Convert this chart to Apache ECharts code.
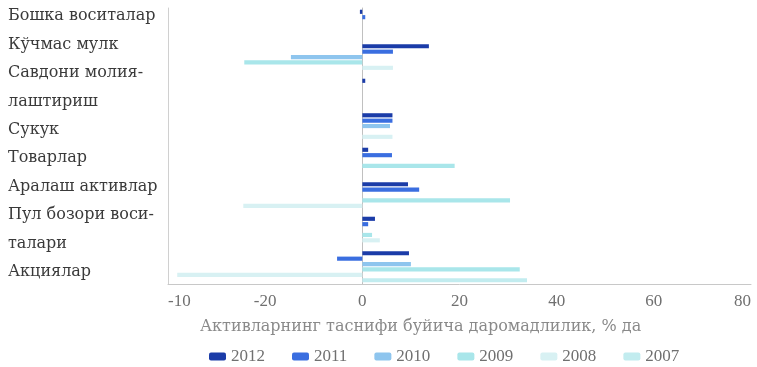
<!DOCTYPE html>
<html>
<head>
<meta charset="utf-8">
<script src="https://cdn.jsdelivr.net/npm/echarts@6/dist/echarts.min.js"></script>
<style>
  html, body { margin: 0; padding: 0; background: #fff; }
  #chart { width: 757px; height: 367px; }
</style>
</head>
<body>
<div id="chart"></div>
<script>
// categories, top to bottom (label lines as printed)
const categories = [
  'Бошка воситалар',
  'Кўчмас мулк',
  'Савдони молия-\nлаштириш',
  'Сукук',
  'Товарлар',
  'Аралаш активлар',
  'Пул бозори воси-\nталари',
  'Акциялар'
];
const years = ['2012', '2011', '2010', '2009', '2008', '2007'];

// returns, % (one value per category, same order)
const y2012 = [-0.5, 13.7, 0.6, 6.2, 1.2, 9.4, 2.6, 9.6];
const y2011 = [0.6, 6.3, null, 6.2, 6.1, 11.7, 1.2, -5.2];
const y2010 = [null, -14.7, null, 5.7, null, null, null, 10];
const y2009 = [null, -24.3, null, null, 19, 30.4, 2.0, 32.4];
const y2008 = [null, 6.3, null, 6.2, null, -24.5, 3.6, -38.1];
const y2007 = [null, null, null, null, null, null, null, 33.9];

const xTicks = [-40, -20, 0, 20, 40, 60, 80];
const xTickLabels = ['-10', '-20', '0', '20', '40', '60', '80'];

const axisTitle = 'Активларнинг таснифи буйича даромадлилик, % да';
const colors = ['#1b3ca8', '#3a6ee0', '#8ec5ee', '#a9e6ea', '#d8f1f3', '#c2ecef'];
const serif = '"DejaVu Serif", "Liberation Serif", serif';
const narrowSerif = '"Liberation Serif", serif';

const seriesData = [y2012, y2011, y2010, y2009, y2008, y2007];

const chart = echarts.init(document.getElementById('chart'));
chart.setOption({
  animation: false,
  color: colors,
  grid: { left: 168, right: 6, top: 8, bottom: 83, containLabel: false },
  xAxis: {
    type: 'value',
    min: xTicks[0],
    max: xTicks[xTicks.length - 1],
    interval: 20,
    axisLine: { show: true, lineStyle: { color: '#c8c8c8', width: 1 } },
    axisTick: { show: false },
    splitLine: { show: false },
    axisLabel: {
      margin: 9,
      color: '#707070',
      fontFamily: narrowSerif,
      fontSize: 17,
      alignMinLabel: 'left',
      alignMaxLabel: 'right',
      formatter: (v) => xTickLabels[xTicks.indexOf(v)]
    }
  },
  yAxis: [
    {
      type: 'category',
      inverse: true,
      data: categories,
      axisLine: { show: true, onZero: true, lineStyle: { color: '#c0c0c0', width: 1 } },
      axisTick: { show: false },
      axisLabel: { show: false }
    },
    {
      type: 'category',
      inverse: true,
      position: 'left',
      data: categories,
      axisLine: { show: true, onZero: false, lineStyle: { color: '#d0d0d0', width: 1 } },
      axisTick: { show: false },
      axisLabel: { show: false }
    }
  ],
  legend: {
    left: 204,
    top: 343,
    itemWidth: 17,
    itemHeight: 8,
    itemGap: 27,
    icon: 'roundRect',
    textStyle: { color: '#707070', fontFamily: narrowSerif, fontSize: 17 },
    data: years
  },
  graphic: [
    {
      type: 'text',
      left: 8,
      top: 2,
      style: {
        text: categories.join('\n'),
        font: '16px ' + serif,
        lineHeight: 28.4,
        fill: '#3a3a3a'
      }
    },
    {
      type: 'text',
      left: 200,
      top: 319,
      style: {
        text: axisTitle,
        font: '16px ' + serif,
        fill: '#8a8a8a'
      }
    }
  ],
  series: years.map((y, i) => ({
    name: y,
    type: 'bar',
    yAxisIndex: 0,
    data: seriesData[i],
    barCategoryGap: '10%',
    barGap: '30%',
    itemStyle: { color: colors[i] }
  }))
});
</script>
</body>
</html>
